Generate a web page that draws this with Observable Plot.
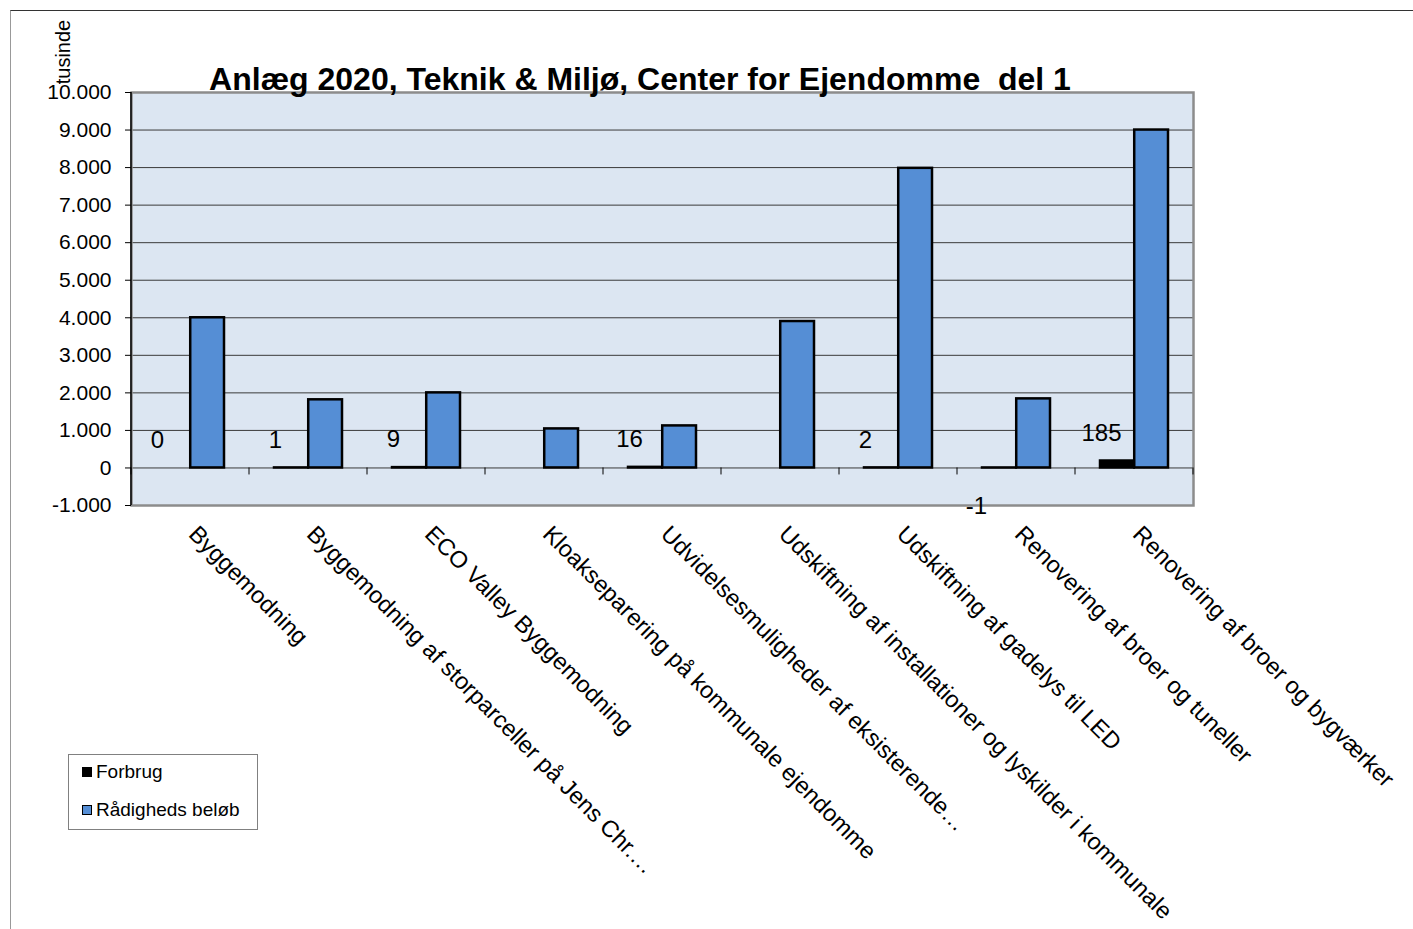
<!DOCTYPE html>
<html>
<head>
<meta charset="utf-8">
<script src="https://cdn.jsdelivr.net/npm/d3@7"></script>
<script src="https://cdn.jsdelivr.net/npm/@observablehq/plot@0.6"></script>
<style>
  html, body { margin: 0; padding: 0; background: #fff; }
  body { width: 1413px; height: 929px; position: relative; overflow: hidden; font-family: "Liberation Sans", Arial, sans-serif; }
  #chart { position: absolute; left: 0; top: 0; }
  #border { position: absolute; left: 10px; top: 10px; right: 0; bottom: 0; border-top: 1px solid #333; border-left: 1px solid #999; }
  #title { position: absolute; left: 640px; top: 63px; transform: translateX(-50%); font-size: 32px; font-weight: bold; line-height: 32px; white-space: pre; color: #000; }
  #ylabel { position: absolute; left: 63px; top: 52px; transform: translate(-50%, -50%) rotate(-90deg); font-size: 20px; line-height: 20px; white-space: pre; color: #000; }
  #legend { position: absolute; left: 68px; top: 754px; width: 188px; height: 74px; border: 1px solid #808080; background: #fff; font-size: 19px; }
  .item { position: absolute; left: 13px; display: flex; align-items: center; white-space: pre; }
  .sw { width: 10px; height: 10px; margin-right: 4px; box-sizing: border-box; }
</style>
</head>
<body>
<div id="border"></div>
<div id="chart"></div>
<div id="ylabel">tusinde</div>
<div id="title"></div>
<div id="legend"></div>
<script>
const title = "Anlæg 2020, Teknik & Miljø, Center for Ejendomme  del 1";
const yLabel = "tusinde";
const categories = [
  "Byggemodning",
  "Byggemodning af storparceller på Jens Chr.…",
  "ECO Valley Byggemodning",
  "Kloakseparering på kommunale ejendomme",
  "Udvidelsesmuligheder af eksisterende…",
  "Udskiftning af installationer og lyskilder i kommunale",
  "Udskiftning af gadelys til LED",
  "Renovering af broer og tuneller",
  "Renovering af broer og bygværker"
];
const seriesNames = ["Forbrug", "Rådigheds beløb"];
const forbrug = [0, 1, 9, null, 16, null, 2, -1, 185];
const raadighed = [4000, 1815, 2000, 1040, 1120, 3900, 7980, 1840, 9000];
const yTicks = [-1000, 0, 1000, 2000, 3000, 4000, 5000, 6000, 7000, 8000, 9000, 10000];
const seriesColors = ["#000000", "#558ED5"];

document.getElementById("title").textContent = title;
document.getElementById("ylabel").textContent = yLabel;

const W = 1413, H = 929;
const mL = 131, mR = 220, mT = 92, mB = 424;
const padIn = 0.42;
const step = (W - mL - mR) / categories.length;
const bw = step * (1 - padIn);

const fRows = categories.map((c, i) => ({cat: c, v: forbrug[i]}));
const rRows = categories.map((c, i) => ({cat: c, v: raadighed[i]}));
const boundaries = categories.map((c, i) => ({cat: c, side: -1})).concat([{cat: categories[categories.length - 1], side: 1}]);

const loc = d3.formatLocale({decimal: ",", thousands: ".", grouping: [3], currency: ["", " kr."], minus: "-"});
const fmt = loc.format(",d");

const plot = Plot.plot({
  width: W, height: H,
  marginLeft: mL, marginRight: mR, marginTop: mT, marginBottom: mB,
  style: {fontFamily: "'Liberation Sans', Arial, sans-serif", color: "#000", background: "transparent", overflow: "visible"},
  x: {domain: categories, paddingInner: padIn, paddingOuter: padIn / 2, axis: null, label: null},
  y: {domain: [-1000, 10000], axis: null, label: null},
  marks: [
    Plot.frame({fill: "#dce6f2", stroke: null}),
    Plot.gridY(yTicks, {stroke: "#3a3a3a", strokeOpacity: 1, strokeWidth: 1}),
    Plot.frame({stroke: "#8c8c8c", strokeWidth: 2.5}),
    Plot.barY(rRows, {x: "cat", y: "v", insetLeft: bw / 2, fill: seriesColors[1], stroke: "#000", strokeWidth: 2.5}),
    Plot.barY(fRows.filter(d => d.v != null && d.v !== 0), {x: "cat", y: "v", insetRight: bw / 2, fill: seriesColors[0], stroke: "#000", strokeWidth: 2.5}),
    Plot.text(fRows.filter(d => d.v != null && d.v >= 0), {x: "cat", y: "v", text: d => fmt(d.v), dx: -33, dy: -28, fontSize: 24, fill: "#000"}),
    Plot.text(fRows.filter(d => d.v != null && d.v < 0), {x: "cat", y: "v", text: d => fmt(d.v), dx: -40, dy: 38, fontSize: 24, fill: "#000"}),
    Plot.axisY(yTicks, {tickFormat: fmt, fontSize: 21, tickSize: 6, tickPadding: 14, stroke: "#000", fill: "#000", label: null}),
    Plot.text(categories, {x: d => d, frameAnchor: "bottom", rotate: 45, textAnchor: "start", lineAnchor: "bottom", dx: -3, dy: 30, fontSize: 23.5, fill: "#000"})
  ]
});
document.getElementById("chart").appendChild(plot);

// category boundary ticks and left axis line (positioned through the plot's own scales)
const xs = plot.scale("x");
const ys = plot.scale("y");
const svg = d3.select(plot);
const y0 = ys.apply(0);
const gTicks = svg.append("g");
boundaries.forEach(b => {
  const cx = xs.apply(b.cat) + xs.bandwidth / 2 + b.side * step / 2;
  gTicks.append("line").attr("x1", cx).attr("x2", cx).attr("y1", y0).attr("y2", y0 + 7).attr("stroke", "#000");
});
svg.append("line").attr("x1", mL).attr("x2", mL).attr("y1", mT).attr("y2", H - mB).attr("stroke", "#000").attr("stroke-width", 1.5);

// legend
const lg = document.getElementById("legend");
seriesNames.forEach((n, i) => {
  const it = document.createElement("div");
  it.className = "item";
  it.style.top = (i === 0 ? 6 : 44) + "px";
  const sw = document.createElement("span");
  sw.className = "sw";
  sw.style.background = seriesColors[i];
  sw.style.border = "1.5px solid #000";
  it.appendChild(sw);
  const t = document.createElement("span");
  t.textContent = n;
  it.appendChild(t);
  lg.appendChild(it);
});
</script>
</body>
</html>
